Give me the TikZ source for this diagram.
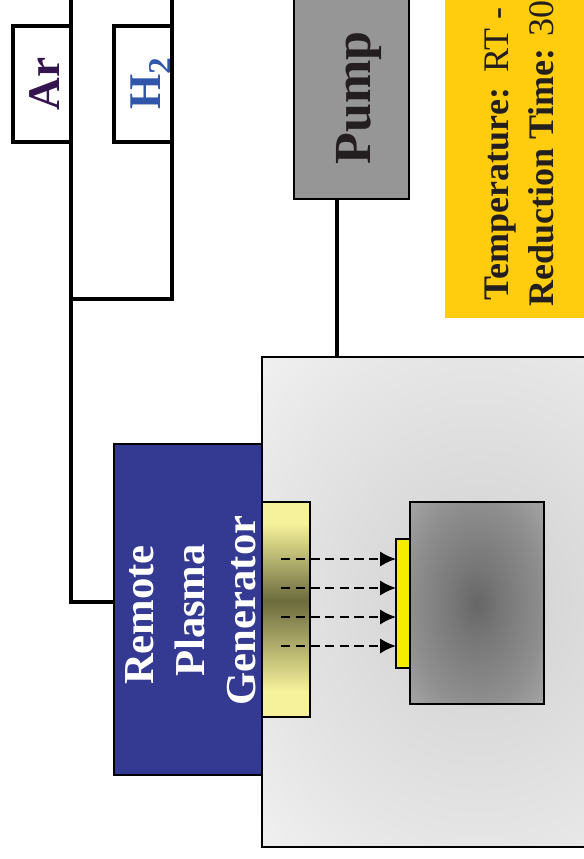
\documentclass[tikz,border=0pt]{standalone}
\usepackage{fontspec}
\setmainfont{Liberation Serif}
\usetikzlibrary{arrows.meta,calc}
\definecolor{plasmablue}{HTML}{343A92}
\definecolor{pumpgray}{HTML}{969696}
\definecolor{infoyellow}{HTML}{FFCC0E}
\definecolor{waferyellow}{HTML}{F5EC00}
\definecolor{argontext}{HTML}{35154F}
\definecolor{hydrogentext}{HTML}{2F56A8}
\definecolor{textgray}{HTML}{231F20}
\definecolor{glowlight}{HTML}{F6F19B}
\definecolor{glowdark}{HTML}{6B6B3D}
\pgfdeclareverticalshading{showerglow}{100bp}{
    color(0bp)=(glowlight); color(31bp)=(glowlight); color(52bp)=(glowdark);
    color(70bp)=(glowlight); color(100bp)=(glowlight)}
\pgfdeclareradialshading{chamberglow}{\pgfpointorigin}{
    color(0bp)=(black!20); color(10bp)=(black!15); color(25bp)=(black!10);
    color(35bp)=(black!6); color(50bp)=(black!6)}
\pgfdeclareradialshading{holderglow}{\pgfpointorigin}{
    color(0bp)=(black!60); color(8bp)=(black!54); color(25bp)=(black!44);
    color(35bp)=(black!36); color(50bp)=(black!36)}

\begin{document}
\begin{tikzpicture}[
    x=0.75pt,
    y=-0.75pt,
    >={Latex[length=12pt,width=11.5pt]},
    every node/.style={font=\bfseries, outer sep=0pt, inner sep=0pt},
    gasbox/.style={
        draw=black,
        line width=2.6pt,
        fill=white,
        rotate=90,
        minimum width=87pt,
        minimum height=43.5pt,
        text height=26pt,
        text depth=0pt,
        font=\bfseries\fontsize{34}{38}\selectfont
    },
    gasline/.style={line width=3pt},
    flowline/.style={->, line width=1.5pt, dash pattern=on 7pt off 4pt},
    infotext/.style={
        rotate=90,
        anchor=base west,
        text=textgray,
        font=\bfseries\fontsize{27}{30}\selectfont
    }
]

\useasboundingbox (0,0) rectangle (584,859);
\clip (0,0) rectangle (584,859);

\node[draw=black, line width=1.1pt, shading=chamberglow,
    minimum width=324pt, minimum height=367.5pt] (chamber) at (478,602) {};

\node[draw=black, line width=1.5pt, shading=showerglow,
    minimum width=36pt, minimum height=161.25pt] (shower) at (286,609.5) {};
\node[draw=black, line width=1.5pt, shading=holderglow,
    minimum width=100.5pt, minimum height=151.5pt] (holder) at (477,603) {};
\node[draw=black, line width=1.5pt, fill=waferyellow,
    minimum width=10.5pt, minimum height=96.75pt] (wafer) at (403,603.5) {};

\node[draw=black, line width=1.5pt, fill=plasmablue,
    minimum width=111pt, minimum height=248.25pt] (plasma) at (188,609.5) {};
\node[rotate=90, text=white, align=center,
    font=\bfseries\fontsize{32}{38.25}\selectfont] (plasmalabel) at (190.5,610.5)
    {\mbox{Remote\hspace{6.7pt}}\\Plasma\\Generator};

\node[gasbox, text=argontext] (argon) at (42,84) {Ar};
\node[gasbox, text=hydrogentext] (hydrogen) at (143,84)
    {H\raisebox{-8pt}{\fontsize{25}{25}\selectfont 2}};

\node[draw=black, line width=1.1pt, fill=pumpgray, rotate=90, text=textgray,
    minimum width=151.5pt, minimum height=86.25pt, text height=29pt, text depth=0pt,
    font=\bfseries\fontsize{39}{42}\selectfont] (pump) at (351.5,98) {Pump};

\node[fill=infoyellow, minimum width=146.25pt, minimum height=253.5pt] (info) at (542.5,149) {};
\node[infotext] (templine) at (508,300) {Temperature:\hspace{3pt} \mdseries RT -};
\node[infotext] (timeline) at (553,306.5) {Reduction Time: \mdseries 30};

\coordinate (argontop) at (71,0);
\coordinate (hydrogentop) at (172,0);
\coordinate (gasjoin) at (71,299);

\draw[gasline] (argontop) |- ([yshift=5.6pt]plasma.west);
\draw[gasline, line width=2.6pt] (hydrogentop) |- (gasjoin);
\draw[gasline] ([xshift=-10.9pt]pump.west) -- ([xshift=-10.9pt]pump.west |- chamber.north);

\foreach \i/\y in {1/559,2/588,3/617,4/646} {
    \coordinate (flow\i) at (281,\y);
    \draw[flowline] (flow\i) -- (flow\i -| wafer.west);
}

\end{tikzpicture}
\end{document}
